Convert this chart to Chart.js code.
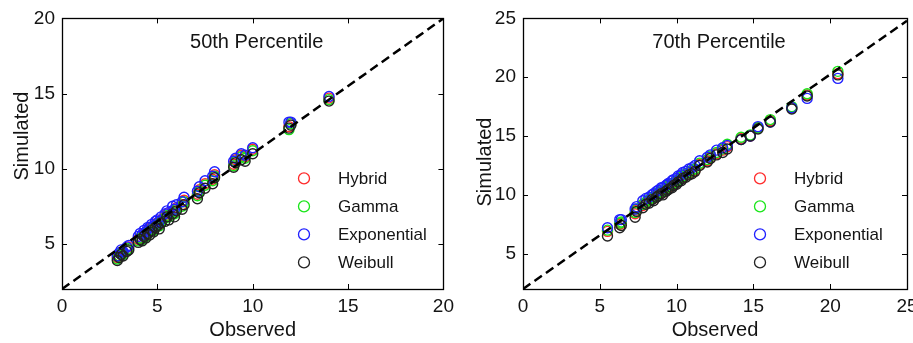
<!DOCTYPE html>
<html>
<head>
<meta charset="utf-8">
<script src="https://cdn.jsdelivr.net/npm/chart.js@4/dist/chart.umd.min.js"></script>
<style>
  html, body { margin: 0; padding: 0; background: #fff; overflow: hidden; }
  body { width: 913px; height: 343px; position: relative; }
  canvas { position: absolute; top: 0; }
  #left { left: 0; }
  #right { left: 460px; }
</style>
</head>
<body>
<canvas id="left" width="460" height="343"></canvas>
<canvas id="right" width="470" height="343"></canvas>
<script>
// 50th percentile panel
const obs50 = [2.9, 3.0, 3.1, 3.2, 3.4, 3.5, 4.0, 4.1, 4.2, 4.3, 4.4, 4.5, 4.6, 4.7, 4.8, 4.9, 5.0, 5.1, 5.2, 5.4,
               5.5, 5.6, 5.8, 5.9, 6.0, 6.3, 6.4, 7.1, 7.2, 7.5, 7.9, 8.0, 9.0, 9.1, 9.4, 9.6, 10.0, 11.9, 12.0, 14.0];
const hybrid50 = [4.1, 4.2, 4.4, 4.4, 4.6, 4.8, 5.3, 5.4, 5.4, 5.7, 5.6, 5.9, 5.8, 6.1, 6.0, 6.3, 6.4, 6.3, 6.6, 6.8,
                  7.0, 6.9, 7.2, 7.1, 7.4, 7.6, 7.9, 8.3, 8.6, 9.0, 9.3, 9.6, 10.3, 10.6, 10.9, 10.8, 11.3, 12.8, 13.0, 14.7];
const gamma50 = [4.0, 4.2, 4.4, 4.3, 4.6, 4.7, 5.2, 5.4, 5.3, 5.6, 5.5, 5.8, 5.8, 6.0, 5.9, 6.2, 6.3, 6.2, 6.5, 6.7,
                 6.9, 6.8, 7.1, 7.0, 7.3, 7.5, 7.8, 8.2, 8.5, 8.9, 9.2, 9.5, 10.2, 10.5, 10.8, 10.7, 11.2, 12.6, 13.0, 14.6];
const expo50 = [4.2, 4.4, 4.6, 4.5, 4.8, 4.9, 5.5, 5.7, 5.6, 5.9, 5.8, 6.1, 6.1, 6.3, 6.2, 6.5, 6.6, 6.5, 6.8, 7.0,
                7.2, 7.1, 7.5, 7.3, 7.6, 7.8, 8.1, 8.5, 8.8, 9.2, 9.5, 9.8, 10.5, 10.7, 11.0, 10.9, 11.4, 13.1, 13.1, 14.8];
const weibull50 = [3.9, 4.1, 4.3, 4.2, 4.5, 4.6, 5.1, 5.3, 5.2, 5.5, 5.4, 5.7, 5.6, 5.9, 5.8, 6.1, 6.2, 6.0, 6.4, 6.5,
                   6.8, 6.6, 7.0, 6.8, 7.2, 7.3, 7.6, 8.0, 8.4, 8.7, 9.0, 9.4, 10.1, 10.4, 10.6, 10.5, 11.0, 12.7, 12.9, 14.5];
const diagX50 = [0, 20];
const diagY50 = [2, 20];
const xTicks50 = [0, 5, 10, 15, 20];
const yTicks50 = [5, 10, 15, 20];

// 70th percentile panel
const obs70 = [5.5, 6.3, 6.4, 7.3, 7.4, 7.8, 8.0, 8.2, 8.4, 8.5, 8.7, 8.8, 9.0, 9.1, 9.3, 9.4, 9.5, 9.7, 9.8, 10.0,
               10.1, 10.3, 10.4, 10.6, 10.8, 11.0, 11.2, 11.5, 12.0, 12.2, 12.6, 13.0, 13.3, 14.2, 14.8, 15.3, 16.1, 17.5, 18.5, 20.5];
const hybrid70 = [6.9, 7.5, 7.6, 8.4, 8.7, 9.1, 9.3, 9.5, 9.7, 9.7, 9.9, 10.1, 10.2, 10.2, 10.4, 10.6, 10.7, 10.8, 10.9, 11.1,
                  11.2, 11.4, 11.5, 11.7, 11.8, 12.0, 12.1, 12.6, 12.9, 13.2, 13.5, 13.8, 14.1, 14.8, 15.0, 15.7, 16.3, 17.4, 18.5, 20.3];
const gamma70 = [7.0, 7.6, 7.7, 8.5, 8.8, 9.2, 9.4, 9.6, 9.8, 9.8, 10.0, 10.2, 10.3, 10.3, 10.5, 10.7, 10.8, 10.9, 11.0, 11.2,
                 11.3, 11.5, 11.6, 11.8, 11.9, 12.1, 12.2, 12.7, 13.0, 13.3, 13.6, 13.9, 14.3, 14.9, 15.1, 15.7, 16.4, 17.5, 18.6, 20.5];
const expo70 = [7.2, 7.9, 7.9, 8.8, 9.0, 9.5, 9.7, 9.8, 10.0, 10.1, 10.3, 10.4, 10.6, 10.6, 10.8, 10.9, 11.0, 11.2, 11.3, 11.4,
                11.6, 11.7, 11.9, 12.0, 12.2, 12.3, 12.5, 12.9, 13.2, 13.4, 13.8, 14.0, 14.2, 14.7, 15.0, 15.8, 16.2, 17.4, 18.2, 19.9];
const weibull70 = [6.5, 7.2, 7.4, 8.1, 8.6, 8.9, 9.2, 9.3, 9.6, 9.5, 9.8, 9.9, 10.1, 10.0, 10.3, 10.4, 10.5, 10.6, 10.8, 10.9,
                   11.1, 11.2, 11.4, 11.5, 11.7, 11.8, 12.0, 12.5, 12.8, 13.1, 13.4, 13.6, 13.9, 14.7, 15.0, 15.6, 16.2, 17.3, 18.4, 20.2];
const diagX70 = [0, 25];
const diagY70 = [2, 24.8];
const xTicks70 = [0, 5, 10, 15, 20, 25];
const yTicks70 = [5, 10, 15, 20, 25];

const modelNames = ['Hybrid', 'Gamma', 'Exponential', 'Weibull'];
const modelColors = ['#ff2a2a', '#19e619', '#2020ff', '#222222'];

const FONT = '"Liberation Sans", Arial, sans-serif';
const INK = '#141414';

function pts(xs, ys) {
    return xs.map((x, i) => ({ x: x, y: ys[i] }));
}

// box, inward ticks, title, legend and y title, MATLAB style
const panelPlugin = {
    id: 'panel',
    afterDatasetsDraw(chart, args, opts) {
        const ctx = chart.ctx;
        const a = chart.chartArea;
        const xs = chart.scales.x, ys = chart.scales.y;
        ctx.save();
        ctx.strokeStyle = '#000';
        ctx.lineWidth = 1;
        xs.ticks.forEach(t => {
            const px = Math.round(xs.getPixelForValue(t.value)) + 0.5;
            ctx.beginPath();
            ctx.moveTo(px, a.bottom); ctx.lineTo(px, a.bottom - 5);
            ctx.moveTo(px, a.top); ctx.lineTo(px, a.top + 5);
            ctx.stroke();
        });
        ys.ticks.forEach(t => {
            const py = Math.round(ys.getPixelForValue(t.value)) + 0.5;
            ctx.beginPath();
            ctx.moveTo(a.left, py); ctx.lineTo(a.left + 5, py);
            ctx.moveTo(a.right, py); ctx.lineTo(a.right - 5, py);
            ctx.stroke();
        });
        ctx.lineWidth = 1.3;
        ctx.strokeRect(Math.round(a.left) + 0.5, Math.round(a.top) + 0.5,
                       Math.round(a.right - a.left), Math.round(a.bottom - a.top));

        // title inside the box
        ctx.fillStyle = INK;
        ctx.font = '20px ' + FONT;
        ctx.textAlign = 'center';
        ctx.textBaseline = 'middle';
        ctx.fillText(opts.title, (a.left + a.right) / 2 + 4, a.top + 24);

        // legend
        ctx.font = '17px ' + FONT;
        ctx.textAlign = 'left';
        modelNames.forEach((name, i) => {
            const y = a.top + 160 + i * 28;
            ctx.strokeStyle = modelColors[i];
            ctx.lineWidth = 1.3;
            ctx.beginPath();
            ctx.arc(a.left + opts.legendX, y, 5.5, 0, Math.PI * 2);
            ctx.stroke();
            ctx.fillStyle = INK;
            ctx.fillText(name, a.left + opts.legendX + 34, y + 1);
        });

        // y axis title
        ctx.save();
        ctx.translate(opts.yTitleX, opts.yTitleY);
        ctx.rotate(-Math.PI / 2);
        ctx.font = '20px ' + FONT;
        ctx.textAlign = 'center';
        ctx.fillText('Simulated', 0, 0);
        ctx.restore();
        ctx.restore();
    }
};

function makePanel(id, obs, series, diagX, diagY, xTicks, yTicks, xMax, yAxisW, padRight, panelOpts) {
    const datasets = [{
        type: 'line',
        data: pts(diagX, diagY),
        borderColor: '#000',
        borderWidth: 2.5,
        borderDash: [9, 5],
        pointRadius: 0,
        order: 0
    }];
    series.forEach((ys, i) => {
        datasets.push({
            type: 'scatter',
            label: modelNames[i],
            data: pts(obs, ys),
            borderColor: modelColors[i],
            backgroundColor: 'rgba(0,0,0,0)',
            borderWidth: 1.4,
            pointRadius: 5,
            order: 4 - i
        });
    });

    return new Chart(document.getElementById(id), {
        type: 'scatter',
        data: { datasets: datasets },
        options: {
            responsive: false,
            animation: false,
            events: [],
            layout: { padding: { left: 0, right: padRight, top: 17, bottom: 0 } },
            plugins: {
                legend: { display: false },
                tooltip: { enabled: false },
                panel: panelOpts
            },
            scales: {
                x: {
                    type: 'linear',
                    min: 0,
                    max: xMax,
                    afterBuildTicks: s => { s.ticks = xTicks.map(v => ({ value: v })); },
                    afterFit: s => { s.height = 54; },
                    grid: { display: false, drawTicks: false },
                    border: { display: false },
                    ticks: { padding: 6, color: INK, font: { family: FONT, size: 19 } },
                    title: { display: true, text: 'Observed', color: INK,
                             padding: { top: 0, bottom: 1 }, font: { family: FONT, size: 20 } }
                },
                y: {
                    type: 'linear',
                    min: 2,
                    max: yTicks[yTicks.length - 1],
                    afterBuildTicks: s => { s.ticks = yTicks.map(v => ({ value: v })); },
                    afterFit: s => { s.width = yAxisW; },
                    grid: { display: false, drawTicks: false },
                    border: { display: false },
                    ticks: { padding: 7, color: INK, font: { family: FONT, size: 19 } }
                }
            }
        },
        plugins: [panelPlugin]
    });
}

Chart.defaults.font.family = FONT;

makePanel('left', obs50, [hybrid50, gamma50, expo50, weibull50], diagX50, diagY50, xTicks50, yTicks50,
          20, 62, 16, { title: '50th Percentile', legendX: 242, yTitleX: 22, yTitleY: 136 });
makePanel('right', obs70, [hybrid70, gamma70, expo70, weibull70], diagX70, diagY70, xTicks70, yTicks70,
          25, 63, 23, { title: '70th Percentile', legendX: 237, yTitleX: 25, yTitleY: 162 });
</script>
</body>
</html>
